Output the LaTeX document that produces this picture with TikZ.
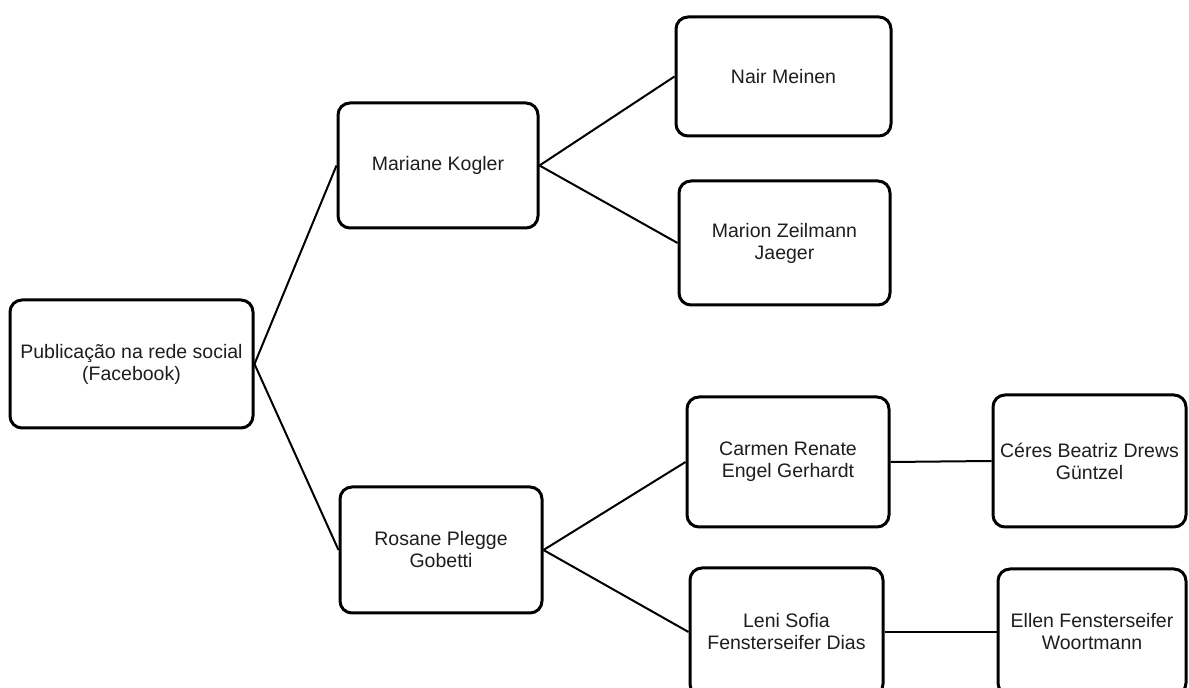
\documentclass[tikz,border=0pt]{standalone}
\usepackage{fontspec}
\setmainfont{Liberation Sans}
\definecolor{txt}{HTML}{1E1E1E}
\begin{document}
\begin{tikzpicture}[x=0.5pt,y=-0.5pt,
  box/.style={draw=black, line width=1.5pt, rounded corners=6pt, fill=white,
    align=center, inner sep=0pt, text=txt,
    font=\fontsize{9.75pt}{11pt}\selectfont},
  link/.style={draw=black, line width=1pt}]
\useasboundingbox (0,0) rectangle (1189,688);
\node[box, minimum width=121.5pt, minimum height=64pt] (root) at (131.5,364) {Publicação na rede social\\(Facebook)};
\node[box, minimum width=100pt, minimum height=62.5pt] (mar) at (438,165.5) {Mariane Kogler};
\node[box, minimum width=101pt, minimum height=63pt] (ros) at (441,550) {Rosane Plegge\\Gobetti};
\node[box, minimum width=107.5pt, minimum height=59.5pt] (nair) at (783.5,76.5) {Nair Meinen};
\node[box, minimum width=105.5pt, minimum height=62pt] (marion) at (784.5,243) {Marion Zeilmann\\Jaeger};
\node[box, minimum width=101pt, minimum height=65pt] (carmen) at (788,462) {Carmen Renate\\Engel Gerhardt};
\node[box, minimum width=96.5pt, minimum height=64pt] (leni) at (786.5,632) {Leni Sofia\\Fensterseifer Dias};
\node[box, minimum width=96.5pt, minimum height=66pt] (ceres) at (1089.5,461) {Céres Beatriz Drews\\Güntzel};
\node[box, minimum width=94pt, minimum height=63pt] (ellen) at (1092,632) {Ellen Fensterseifer\\Woortmann};
\draw[link] (root.east) -- (mar.west);
\draw[link] (root.east) -- (ros.west);
\draw[link] (mar.east) -- (nair.west);
\draw[link] (mar.east) -- (marion.west);
\draw[link] (ros.east) -- (carmen.west);
\draw[link] (ros.east) -- (leni.west);
\draw[link] (carmen.east) -- (ceres.west);
\draw[link] (leni.east) -- (ellen.west);
\end{tikzpicture}
\end{document}
